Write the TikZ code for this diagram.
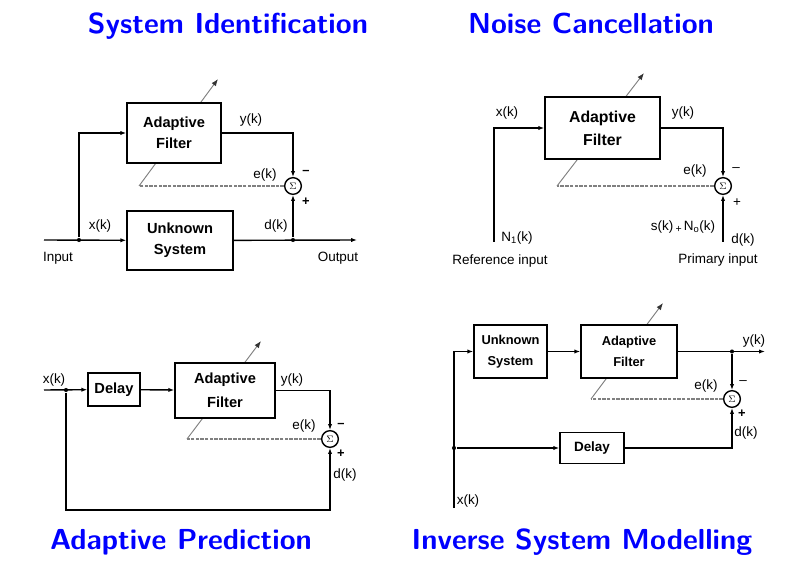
\documentclass[tikz,border=0pt]{standalone}
\usepackage{fontspec}
\newfontfamily\lblfont{Liberation Sans}
\usepackage{tikz}
\usetikzlibrary{calc,arrows.meta}

\begin{document}
\begin{tikzpicture}[
  x=0.03cm, y=-0.03cm,
  line width=1.2pt,
  >={Latex[length=5pt,width=3.6pt]},
  block/.style={draw, fill=white, align=center, inner sep=0pt,
    font=\lblfont\fontsize{12.5}{18}\selectfont\bfseries},
  sumnode/.style={circle, draw, fill=white, inner sep=0pt, minimum size=0.5cm,
    font=\footnotesize},
  lbl/.style={inner sep=0pt, font=\lblfont\fontsize{11.5}{13}\selectfont},
  sgn/.style={inner sep=0pt, font=\lblfont\fontsize{11}{13}\selectfont\bfseries},
  dot/.style={circle, fill=black, inner sep=0pt, minimum size=3.5pt},
  err/.style={draw=gray, line width=0.9pt, dash pattern=on 3pt off 1pt},
  adapt/.style={draw=gray, line width=0.8pt,
    -{Latex[length=6pt,width=4.5pt,color=black!80]}},
  title/.style={text=blue, anchor=base, font=\sffamily\bfseries\fontsize{24.7}{28}\selectfont}
]
\useasboundingbox (0,0) rectangle (805,568);

% titles
\node[title] (t1) at (228,34) {System Identification};
\node[title] (t2) at (591,34) {Noise Cancellation};
\node[title] (t3) at (181,549) {Adaptive Prediction};
\node[title] (t4) at (582,549) {Inverse System Modelling};

% ---- system identification
\coordinate (e1) at (139,186);
\coordinate (a1) at (218,79);
\draw[adapt] (e1) -- (a1);
\node[block, minimum width=2.82cm, minimum height=1.8cm] (af1) at (174,133) {Adaptive\\Filter};
\node[block, minimum width=3.18cm, minimum height=1.77cm] (us1) at (180,240.5) {Unknown\\System};
\node[sumnode] (sum1) at (293,186) {$\Sigma$};
\coordinate (in1) at (44,240);
\coordinate (out1) at (357,240);
\node[dot] (j1) at (79,240) {};
\node[dot] (j2) at (293,240) {};
\draw[->] (in1) -- (us1);
\draw[->] (j1) |- (af1.west);
\draw[->] (us1) -- (out1);
\draw[->] (j2) -- (sum1);
\draw[->] (af1.east) -| (sum1);
\draw[err] (sum1) -- (e1);
\node[lbl] (x1) at (100,226) {x(k)};
\node[lbl] (y1) at (251,120) {y(k)};
\node[lbl] (ek1) at (265,175) {e(k)};
\node[lbl] (d1) at (276,226) {d(k)};
\node[lbl] (inp1) at (58,258) {Input};
\node[lbl] (outp1) at (338,258) {Output};
\node[sgn] (m1) at (306,172) {\textendash};
\node[sgn] (p1) at (306,202) {+};

% ---- noise cancellation
\coordinate (e2) at (557,186);
\coordinate (a2) at (644,73);
\draw[adapt] (e2) -- (a2);
\node[block, minimum width=3.45cm, minimum height=1.86cm,
  font=\lblfont\fontsize{13.5}{19.5}\selectfont\bfseries] (af2) at (602.5,128) {Adaptive\\Filter};
\node[sumnode] (sum2) at (723,186) {$\Sigma$};
\coordinate (r2) at (494,242);
\coordinate (pr2) at (723,242);
\draw[->] (r2) |- (af2.west);
\draw[->] (af2.east) -| (sum2);
\draw[->] (pr2) -- (sum2);
\draw[err] (sum2) -- (e2);
\node[lbl] (x2) at (507,113) {x(k)};
\node[lbl] (y2) at (683,113) {y(k)};
\node[lbl] (ek2) at (695,171) {e(k)};
\node[lbl] (n2) at (517,238) {N\textsubscript{1}(k)};
\node[lbl] (ref2) at (500,261) {Reference input};
\node[lbl] (s2) at (683,227) {s(k)\,\raisebox{-2pt}{\small+}\,N\textsubscript{o}(k)};
\node[lbl] (d2) at (743,240) {d(k)};
\node[lbl] (prim2) at (718,260) {Primary input};
\node[lbl] (m2) at (736,170) {\textendash};
\node[lbl] (p2) at (737,203) {+};

% ---- adaptive prediction
\coordinate (e3) at (187,439);
\coordinate (a3) at (261,341);
\draw[adapt] (e3) -- (a3);
\node[block, minimum width=1.56cm, minimum height=0.99cm] (dl3) at (114,389.5) {Delay};
\node[block, minimum width=3cm, minimum height=1.65cm,
  font=\lblfont\fontsize{12.5}{20.5}\selectfont\bfseries] (af3) at (225,390.5) {Adaptive\\Filter};
\node[sumnode] (sum3) at (330,439) {$\Sigma$};
\coordinate (in3) at (44,390);
\coordinate (c3) at (66,510);
\node[dot] (j3) at (66,390) {};
\draw[->] (in3) -- (dl3);
\draw[->] (dl3) -- (j3 -| af3.west);
\draw[->] (af3.east) -| (sum3);
\draw[->] (j3) -- (c3) -| (sum3);
\draw[err] (sum3) -- (e3);
\node[lbl] (x3) at (54,380) {x(k)};
\node[lbl] (y3) at (292,380) {y(k)};
\node[lbl] (ek3) at (304,426) {e(k)};
\node[lbl] (d3) at (345,475) {d(k)};
\node[sgn] (m3) at (341,425) {\textendash};
\node[sgn] (p3) at (341,454) {+};

% ---- inverse system modelling
\coordinate (e4) at (591,399);
\coordinate (a4) at (663,303);
\draw[adapt] (e4) -- (a4);
\node[block, minimum width=2.19cm, minimum height=1.59cm,
  font=\lblfont\fontsize{11}{18}\selectfont\bfseries] (us4) at (510.5,351.5) {Unknown\\System};
\node[block, minimum width=2.88cm, minimum height=1.59cm,
  font=\lblfont\fontsize{11}{18}\selectfont\bfseries] (af4) at (629,351.5) {Adaptive\\Filter};
\node[block, minimum width=1.92cm, minimum height=0.93cm,
  font=\lblfont\fontsize{11.5}{18}\selectfont\bfseries] (dl4) at (592,448) {Delay};
\node[sumnode] (sum4) at (732,399) {$\Sigma$};
\coordinate (x4) at (454,508);
\coordinate (o4) at (765,351.5);
\node[dot] (j4) at (454,448) {};
\node[dot] (j5) at (732,351.5) {};
\draw[->] (x4) |- (us4.west);
\draw[->] (j4) -- (dl4);
\draw[->] (us4) -- (af4);
\draw[->] (af4) -- (o4);
\draw[->] (j5) -- (sum4);
\draw[->] (dl4.east) -| (sum4);
\draw[err] (sum4) -- (e4);
\node[lbl] (x4l) at (468,501) {x(k)};
\node[lbl] (y4) at (754,341) {y(k)};
\node[lbl] (ek4) at (706,386) {e(k)};
\node[lbl] (d4) at (746,433) {d(k)};
\node[lbl] (m4) at (743,383) {\textendash};
\node[sgn] (p4) at (742,414) {+};
\end{tikzpicture}
\end{document}
